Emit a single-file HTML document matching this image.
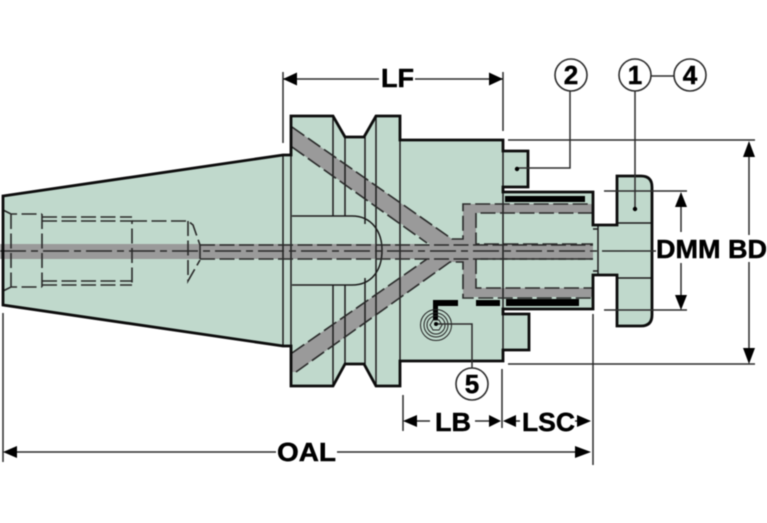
<!DOCTYPE html>
<html><head><meta charset="utf-8"><style>
html,body{margin:0;padding:0;background:#fff;width:767px;height:523px;overflow:hidden}
svg{display:block;filter:blur(.4px)}
text{font-family:"Liberation Sans",sans-serif;font-weight:bold;fill:#000;stroke:#000;stroke-width:.45px}
</style></head><body>
<svg width="767" height="523" viewBox="0 0 767 523" xmlns="http://www.w3.org/2000/svg">
<!-- body fill -->
<path d="M3 196 L283 155 H291 V116 H333 L345 137 H364 L376 116 H400 V140 H503 V151 H528 V187 H503 V192 H593 V225 H617 V176 H641 Q652 176 652 187 V315 Q652 326 641 326 H617 V275 H593 V309 H503 V314 H529 V350 H503 V361 H400 V386 H376 L364 364 H345 L333 386 H291 V346 H283 L3 305 Z" fill="#c0d9cc"/>
<!-- grey -->
<g fill="#9a9a9a">
<rect x="0" y="244" width="593" height="15"/>
<path d="M292 127 L452 239 H463 V204 H593 V213 H476 V244 H430 L292 147 Z"/>
<path d="M292 353 L427 259 H476 V288 H593 V297 H463 V262 H450 L296 372 L292 372 Z"/>
</g>
<!-- thin lines -->
<g fill="none" stroke="#1c1c1c" stroke-width="1.5">
<path d="M283 155 V346 M291 155 V346 M333 116 V216 M345 137 V216 M365 137 V224 M376 116 V386 M400 140 V361"/>
<path d="M292 216 H352 C372 216 382 232 382 250 C382 270 372 285 352 285 H292"/>
<path d="M333 285 V386 M345 285 V364 M365 278 V364 M503 140 V361"/>
<path d="M598 226 V275 M593 229 H598 M593 271 H598 M617 223 H652 M617 278 H652"/>
</g>
<!-- dashes -->
<g fill="none" stroke="#2a2a2a" stroke-width="1.6" stroke-dasharray="15 4.5">
<path d="M292 127 L452 239 H463 V204 H593"/>
<path d="M292 147 L427 243"/>
<path d="M292 353 L427 259"/>
<path d="M296 372 L450 262 H463 V298 H593"/>
<path d="M593 213 H476 V244 H593"/>
<path d="M593 259 H476 V288 H593"/>
<path d="M3 210 L11 214 H42 M11 214 V287 M42 214 V287 M3 291 L11 287 H42"/>
<path d="M42 217 H132 M42 221 H132 V285 M42 281 H132 M42 285 H132"/>
<path d="M132 221 H188 L193 225 L200 245 M188 221 V281 L200 260 M200 245 V259"/>
<path d="M200 245 H593 M200 259 H593"/>
</g>
<path d="M0 251 H625" fill="none" stroke="#2a2a2a" stroke-width="1.6" stroke-dasharray="26 5 7 5"/>
<!-- black bars -->
<g fill="#000">
<rect x="505" y="196" width="80" height="6"/>
<rect x="506" y="299" width="73" height="7"/>
<rect x="476" y="300" width="24" height="6"/>
<rect x="433" y="300" width="25" height="6"/>
<rect x="433" y="300" width="5" height="20"/>
</g>
<!-- screw -->
<g fill="none" stroke="#222" stroke-width="1">
<circle cx="436" cy="325" r="15.5"/><circle cx="436" cy="325" r="12"/><circle cx="436" cy="325" r="9"/>
<path d="M442 325 L439 330 H433 L430 325 L433 320 H439 Z"/>
</g>
<!-- outline -->
<path d="M3 196 L283 155 H291 V116 H333 L345 137 H364 L376 116 H400 V140 H503 V151 H528 V187 H503 V192 H593 V225 H617 V176 H641 Q652 176 652 187 V315 Q652 326 641 326 H617 V275 H593 V309 H503 V314 H529 V350 H503 V361 H400 V386 H376 L364 364 H345 L333 386 H291 V346 H283 L3 305 Z" fill="none" stroke="#0c0c0c" stroke-width="2.8"/>
<!-- dims -->
<g fill="none" stroke="#2c2c2c" stroke-width="1.5">
<path d="M283 72 V143 M503 72 V131 M283 79 H379 M415 79 H503"/>
<path d="M508 140 H755 M508 364 H755 M749 157 V235 M749 262 V350"/>
<path d="M604 191 H687 M604 310 H687 M681 205 V232 M681 263 V296"/>
<path d="M403 395 V431 M502 369 V428 M593 314 V465 M3 313 V462"/>
<path d="M415 421 H430 M475 421 H490 M575 421 H579 M515 421 H520"/>
<path d="M15 452 H276 M337 452 H577"/>
<path d="M570 91 V168 H517 M635 91 V209 M651 76 H674 M472 368 V324 H436 M625 251 H656"/>
</g>
<g fill="#000">
<path d="M283 79 L297 72.5 V85.5 Z M503 79 L489 72.5 V85.5 Z"/>
<path d="M749 141 L743 157 H755 Z M749 364 L743 348 H755 Z"/>
<path d="M681 192 L675 207 H687 Z M681 310 L675 295 H687 Z"/>
<path d="M403 421 L417 415 V427 Z M501 421 L489 415 V427 Z M503 421 L516 415 V427 Z M591 421 L577 415 V427 Z"/>
<path d="M3 452 L17 446 V458 Z M591 452 L575 446 V458 Z"/>
<circle cx="517" cy="169" r="2.2"/><circle cx="635" cy="209" r="2.2"/><circle cx="436" cy="324" r="2"/>
</g>
<!-- callouts -->
<g fill="#fff" stroke="#2c2c2c" stroke-width="1.6">
<circle cx="571" cy="75" r="16"/><circle cx="635" cy="75" r="16"/><circle cx="690" cy="75" r="16"/><circle cx="472" cy="384" r="16"/>
</g>
<g font-size="26" text-anchor="middle">
<text x="571" y="84">2</text><text x="635" y="84">1</text><text x="690" y="84">4</text><text x="472" y="393">5</text>
</g>
<g font-size="26">
<text x="381" y="87" textLength="33" lengthAdjust="spacingAndGlyphs">LF</text>
<text x="656" y="258" textLength="111" lengthAdjust="spacingAndGlyphs">DMM BD</text>
<text x="435" y="431" textLength="36" lengthAdjust="spacingAndGlyphs">LB</text>
<text x="522" y="431" textLength="53" lengthAdjust="spacingAndGlyphs">LSC</text>
<text x="277" y="461" textLength="59" lengthAdjust="spacingAndGlyphs">OAL</text>
</g>
</svg>
</body></html>
